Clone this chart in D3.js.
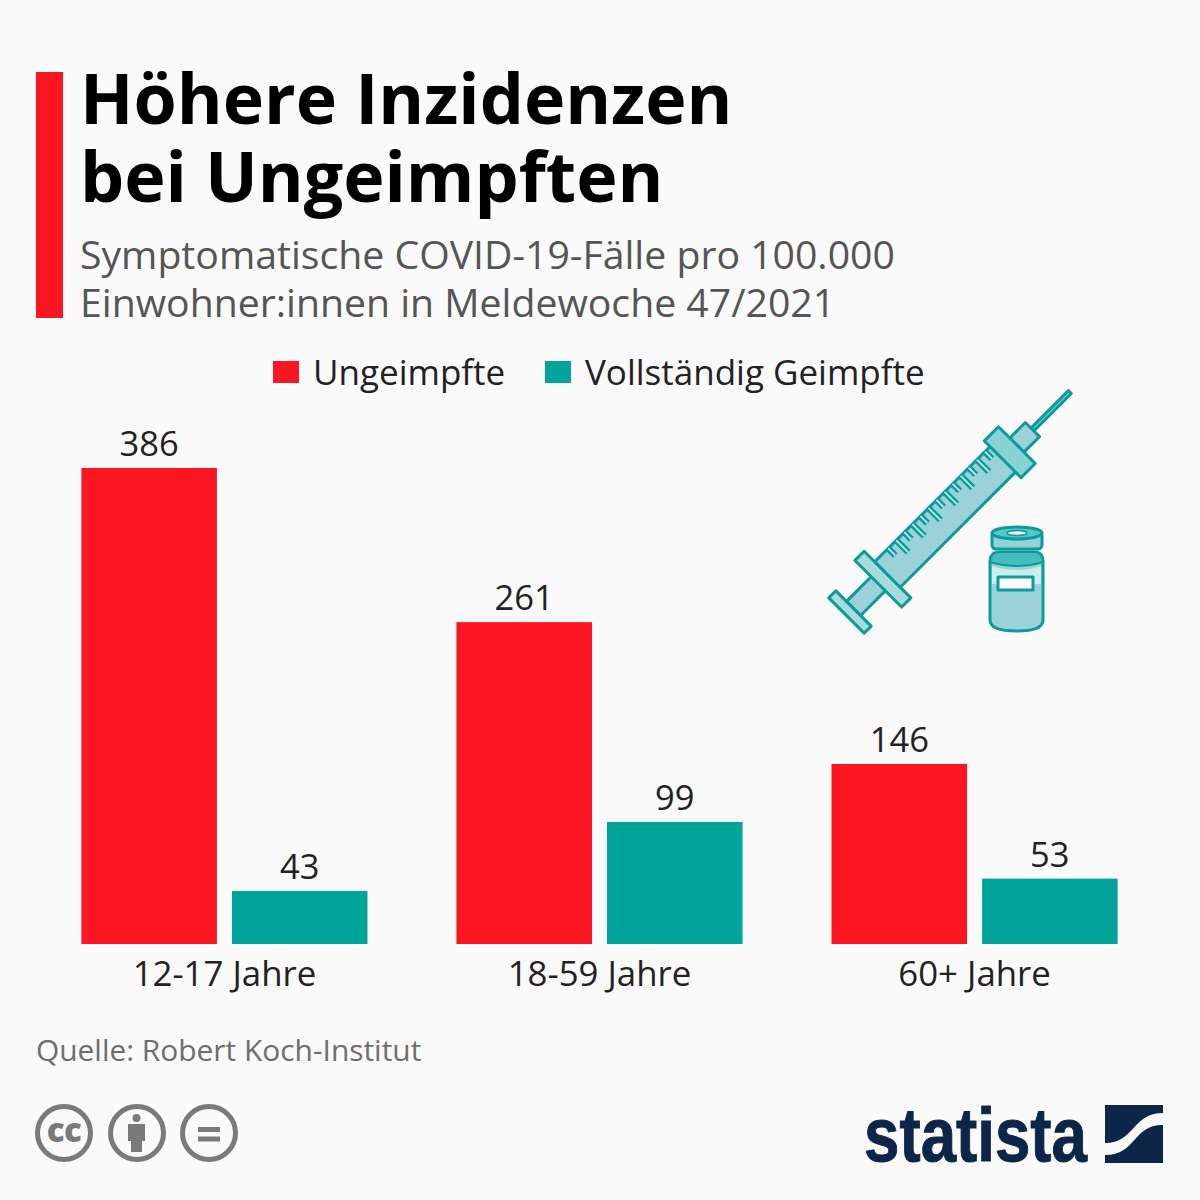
<!DOCTYPE html>
<html><head><meta charset="utf-8">
<script src="https://cdn.jsdelivr.net/npm/d3@7/dist/d3.min.js"></script>
<style>html,body{margin:0;padding:0;background:#fafafa}svg{display:block}text{font-family:"Open Sans",sans-serif}</style>
</head><body><div id="chart"></div>
<script>
const categories = ["12-17 Jahre","18-59 Jahre","60+ Jahre"];
const seriesNames = ["Ungeimpfte","Vollständig Geimpfte"];
const ungeimpfte = [386,261,146];
const geimpfte = [43,99,53];
const seriesColors = ["#fb1621","#00a49a"];
const titleLines = ["Höhere Inzidenzen","bei Ungeimpften"];
const subtitleLines = ["Symptomatische COVID-19-Fälle pro 100.000","Einwohner:innen in Meldewoche 47/2021"];
const sourceText = "Quelle: Robert Koch-Institut";

const svg = d3.select("#chart").append("svg").attr("width",1200).attr("height",1200);
svg.append("rect").attr("width",1200).attr("height",1200).attr("fill","#fafafa");

// header
svg.append("rect").attr("x",36).attr("y",72).attr("width",27).attr("height",246).attr("fill","#fb1621");
svg.selectAll(".title").data(titleLines).join("text").attr("class","title")
  .attr("x",80).attr("y",(d,i)=>124+i*78).attr("font-size",69.9).attr("font-weight",700).attr("fill","#000").text(d=>d);
svg.selectAll(".sub").data(subtitleLines).join("text").attr("class","sub")
  .attr("x",80).attr("y",(d,i)=>269+i*48).attr("font-size",39.2).attr("fill","#555").text(d=>d);

// legend
const legendX = [273,545];
const legend = svg.selectAll(".lg").data(seriesNames).join("g").attr("class","lg")
  .attr("transform",(d,i)=>`translate(${legendX[i]},361)`);
legend.append("rect").attr("width",26).attr("height",22).attr("fill",(d,i)=>seriesColors[i]);
legend.append("text").attr("x",40).attr("y",24).attr("font-size",35).attr("fill","#222").text(d=>d);

// chart
const y = d3.scaleLinear().domain([0,386]).range([944,468]);
const x0 = d3.scaleBand().domain(categories).range([81.4,1117.6]).paddingInner(0.2373);
const x1 = d3.scaleBand().domain(seriesNames).range([0,x0.bandwidth()]).paddingInner(0.1);
const groups = svg.selectAll(".grp").data(categories).join("g").attr("class","grp")
  .attr("transform",d=>`translate(${x0(d)},0)`);
const rows = (d,i)=>[{s:seriesNames[0],v:ungeimpfte[i],c:seriesColors[0]},{s:seriesNames[1],v:geimpfte[i],c:seriesColors[1]}];
groups.selectAll("rect").data(rows).join("rect")
  .attr("x",d=>x1(d.s)).attr("y",d=>y(d.v)).attr("width",x1.bandwidth()).attr("height",d=>y(0)-y(d.v)).attr("fill",d=>d.c);
groups.selectAll("text").data(rows).join("text")
  .attr("x",d=>x1(d.s)+x1.bandwidth()/2).attr("y",d=>y(d.v)-12).attr("text-anchor","middle")
  .attr("font-size",34.5).attr("fill","#222").text(d=>d.v);
const axis = svg.append("g").attr("transform","translate(0,944)").call(d3.axisBottom(x0).tickSize(0).tickPadding(17));
axis.select(".domain").remove();
axis.selectAll("text").attr("font-size",34.8).attr("fill","#222").style("font-family",'"Open Sans",sans-serif');

// source
svg.append("text").attr("x",36).attr("y",1061).attr("font-size",29.9).attr("fill","#6e6e6e").text(sourceText);

// syringe illustration
const teal="#0e9a9c", fillT="#9bd2d8";
const syr = svg.append("g").attr("transform","translate(850,612) rotate(-45)")
  .attr("stroke",teal).attr("stroke-width",3).attr("fill",fillT).attr("stroke-linejoin","round");
const part=(x,w,h,f)=>syr.append("rect").attr("x",x).attr("y",-h/2).attr("width",w).attr("height",h).attr("fill",f||fillT);
part(258,53,4,"#7fd3d3");
part(5,42,20);
part(-5,10,50,"#a8dcdc");
part(40,13,66,"#a8dcdc");
part(53,165,36);
part(236,22,20);
part(216,20,52,"#86d2d4");
const tickIdx = d3.range(0,13);
const tickD = i=>`M${72+i*11.4},-18V${i%2?-1:-8}`;
syr.append("g").selectAll("path").data(tickIdx).join("path")
  .attr("fill","none").attr("stroke-width",6.5).attr("d",tickD);
syr.append("g").selectAll("path").data(tickIdx).join("path")
  .attr("fill","none").attr("stroke","#bfe6e8").attr("stroke-width",1.8).attr("d",tickD);

// vial
const vial = svg.append("g").attr("stroke",teal).attr("stroke-width",3).attr("stroke-linejoin","round");
vial.append("path").attr("fill",fillT)
  .attr("d","M990,562Q990,552 1000,552H1034Q1043,552 1043,562V620Q1043,631 1017,631Q990,631 990,620Z");
vial.append("path").attr("fill","#c9ecec").attr("stroke","none").attr("d","M992,566Q1017,574 1041,566V584H992Z");
vial.append("path").attr("fill","#45bdbd").attr("stroke-width",2).attr("d","M990,562Q990,552 1000,552H1034Q1043,552 1043,562Q1017,570 990,562Z");
vial.append("rect").attr("x",992).attr("y",531).attr("width",50).attr("height",18).attr("rx",4).attr("fill","#8fd3d6");
vial.append("ellipse").attr("cx",1017).attr("cy",533).attr("rx",25).attr("ry",6).attr("fill","#5cc4c4");
vial.append("ellipse").attr("cx",1017).attr("cy",533).attr("rx",10).attr("ry",2.5).attr("fill","#e8f7f7").attr("stroke-width",1.5);
vial.append("rect").attr("x",998).attr("y",577).attr("width",35).attr("height",13).attr("fill","#fff");

// licence icons
const grey="#7a7a7a";
const iconX=[64,137,209];
svg.selectAll(".ic").data(iconX).join("circle").attr("class","ic").attr("cx",d=>d).attr("cy",1133).attr("r",26.5)
  .attr("fill","none").attr("stroke",grey).attr("stroke-width",5);
svg.append("text").attr("x",64).attr("y",1142).attr("text-anchor","middle").attr("font-size",33).attr("font-weight",800).attr("letter-spacing",-0.5).attr("fill",grey).text("cc");
svg.append("circle").attr("cx",136.5).attr("cy",1118).attr("r",4).attr("fill",grey);
svg.append("path").attr("fill",grey).attr("d","M128,1124H145V1141H142V1152H131V1141H128Z");
svg.append("path").attr("stroke",grey).attr("stroke-width",5).attr("fill","none").attr("d","M198,1129.5H220M198,1139H220");

// statista logo
const navy="#0d2548";
svg.append("text").attr("x",864).attr("y",1161).attr("font-size",76).attr("font-weight",700)
  .style("font-family",'"Liberation Sans",sans-serif').attr("fill",navy).attr("stroke",navy).attr("stroke-width",1)
  .attr("textLength",223).attr("lengthAdjust","spacingAndGlyphs").text("statista");
svg.append("path").attr("fill",navy).attr("d","M1105,1105H1163V1113C1132,1113 1135,1143 1105,1143Z");
svg.append("path").attr("fill",navy).attr("d","M1105,1163V1155C1137,1155 1132,1125 1163,1125V1163Z");
</script></body></html>
